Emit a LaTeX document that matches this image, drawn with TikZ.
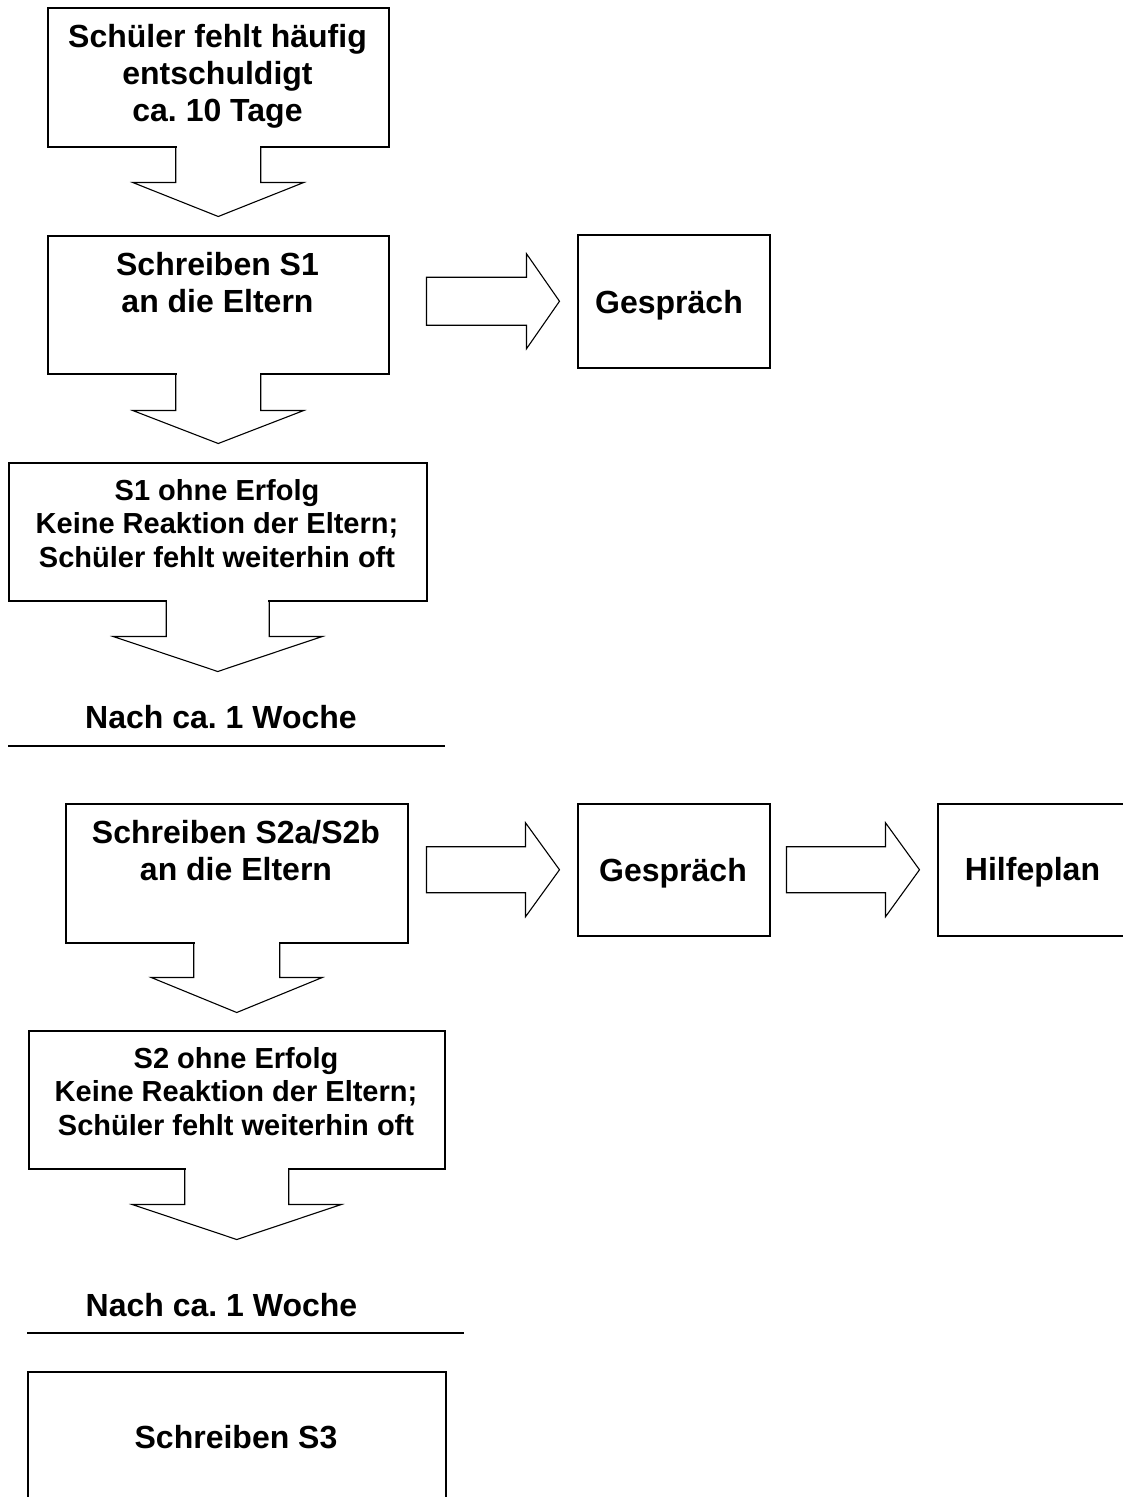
\documentclass[tikz,border=0pt]{standalone}
\usepackage{fontspec}
\setmainfont{Liberation Sans}
\usetikzlibrary{calc}
\frenchspacing
\tikzset{
  boxframe/.style={draw=black, line width=1.5pt, inner sep=0pt, anchor=north west, fill=white},
  bigtext/.style={inner sep=0pt, align=center, font=\fontsize{32}{37}\selectfont\bfseries},
  smalltext/.style={inner sep=0pt, align=center, font=\fontsize{29}{33.5}\selectfont\bfseries},
  arrowline/.style={draw=black, line width=1.1pt, line join=miter},
  rule/.style={draw=black, line width=1.2pt}
}
% down block arrow growing out of a box: #1 start point, #2 shaft half width, #3 shaft length, #4 head half width, #5 head length
\newcommand\blockdown[5]{%
  \fill[white] ($(#1)+(-#2+0.9,-1.6)$) rectangle ($(#1)+(#2-0.9,1)$);
  \draw[arrowline] ($(#1)+(-#2,0)$) -- ($(#1)+(-#2,#3)$) -- ($(#1)+(-#4,#3)$) -- ($(#1)+(0,#3+#5)$) -- ($(#1)+(#4,#3)$) -- ($(#1)+(#2,#3)$) -- ($(#1)+(#2,0)$);}
% right block arrow: #1 start point (middle of tail), #2 shaft half width, #3 shaft length, #4 head half width, #5 head length
\newcommand\blockright[5]{%
  \draw[arrowline] ($(#1)+(0,-#2)$) -- ($(#1)+(#3,-#2)$) -- ($(#1)+(#3,-#4)$) -- ($(#1)+(#3+#5,0)$) -- ($(#1)+(#3,#4)$) -- ($(#1)+(#3,#2)$) -- ($(#1)+(0,#2)$) -- cycle;}
\begin{document}
\begin{tikzpicture}[x=1pt,y=-1pt]
\useasboundingbox (0,0) rectangle (1123,1497);
\clip (0,0) rectangle (1123,1497);
\fill[white] (0,0) rectangle (1123,1497);

% boxes
\node[boxframe, minimum width=341pt, minimum height=139pt] (box1) at (47,7) {};
\node[boxframe, minimum width=341pt, minimum height=138pt] (box2) at (47,235) {};
\node[boxframe, minimum width=192pt, minimum height=133pt] (g1) at (577,234) {};
\node[boxframe, minimum width=418pt, minimum height=138pt] (box3) at (8,462) {};
\node[boxframe, minimum width=342pt, minimum height=139pt] (box4) at (65,803) {};
\node[boxframe, minimum width=192pt, minimum height=132pt] (g2) at (577,803) {};
\node[boxframe, minimum width=210pt, minimum height=132pt] (hp) at (937,803) {};
\node[boxframe, minimum width=416pt, minimum height=138pt] (box5) at (28,1030) {};
\node[boxframe, minimum width=418pt, minimum height=150pt] (box6) at (27,1371) {};

% texts
\node[bigtext, anchor=north] (t1) at (217.5,23.7) {Schüler fehlt häufig\\entschuldigt\\ca. 10 Tage};
\node[bigtext, anchor=north] (t2) at (217.5,251.7) {Schreiben S1\\an die Eltern};
\node[bigtext, anchor=base] (tg1) at (669,313) {Gespräch};
\node[smalltext, anchor=north] (t3) at (217,478.9) {S1 ohne Erfolg\\Keine Reaktion der Eltern;\\Schüler fehlt weiterhin oft};
\node[bigtext, anchor=base] (w1) at (221,728) {Nach ca. 1 Woche};
\node[bigtext, anchor=north] (t4) at (236,819.7) {Schreiben S2a/S2b\\an die Eltern};
\node[bigtext, anchor=base] (tg2) at (673,881) {Gespräch};
\node[bigtext, anchor=base] (thp) at (1032.5,880) {Hilfeplan};
\node[smalltext, anchor=north] (t5) at (236,1046.9) {S2 ohne Erfolg\\Keine Reaktion der Eltern;\\Schüler fehlt weiterhin oft};
\node[bigtext, anchor=base] (w2) at (221.5,1316) {Nach ca. 1 Woche};
\node[bigtext, anchor=base] (t6) at (236,1448) {Schreiben S3};

% rules under "Nach ca. 1 Woche"
\draw[rule] (8,746) -- (445,746);
\draw[rule] (27,1333) -- (464,1333);

% down block arrows
\blockdown{box1.south}{42.5}{35}{85.5}{34}
\blockdown{box2.south}{42.5}{36}{85.5}{33}
\blockdown{box3.south}{51.5}{35}{104.5}{35}
\blockdown{box4.south}{43}{34}{85.5}{35}
\blockdown{box5.south}{52}{35}{104.5}{35}

% right block arrows
\coordinate (r1) at ($(box2.east |- g1.center)+(37,0)$);
\coordinate (r2) at ($(box4.east |- g2.center)+(18,0)$);
\coordinate (r3) at ($(g2.east)+(16,0)$);
\blockright{r1}{24}{100}{47.5}{33}
\blockright{r2}{23}{99}{47}{34}
\blockright{r3}{23}{99}{47}{34}
\end{tikzpicture}
\end{document}
